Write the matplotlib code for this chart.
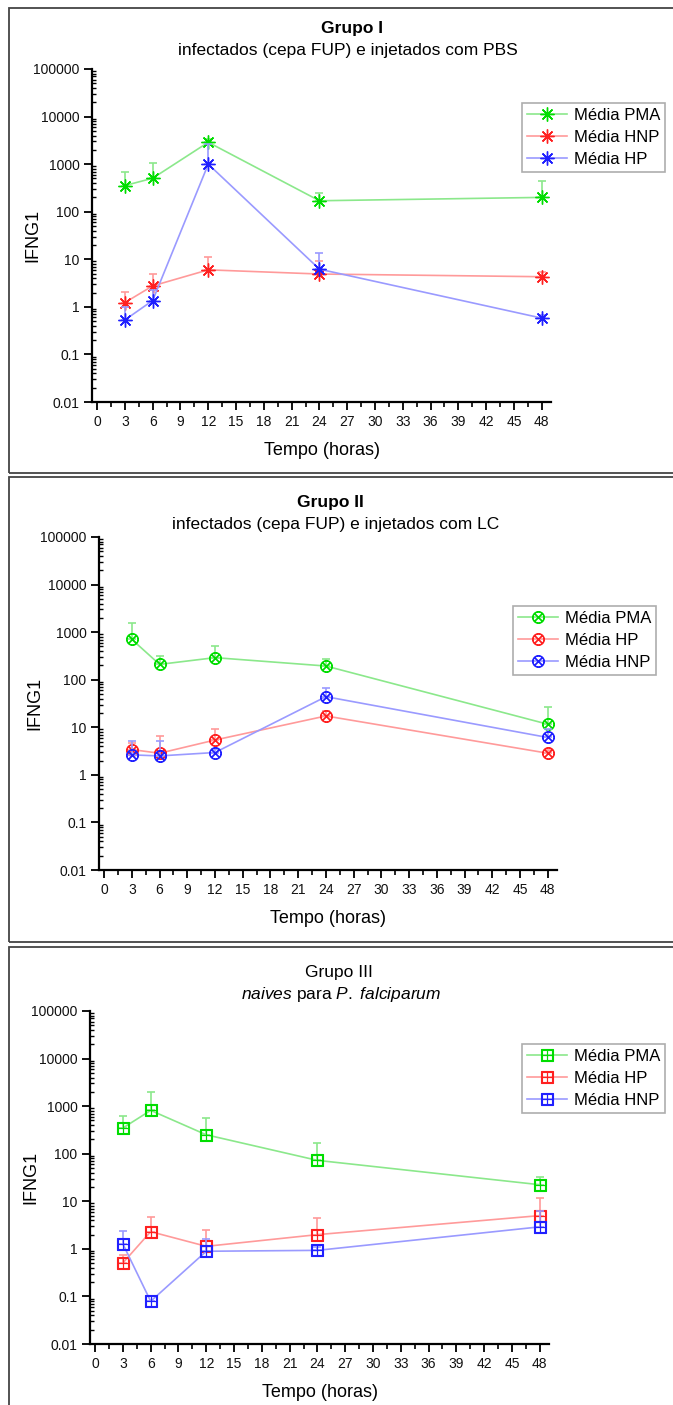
import numpy as np
import matplotlib
matplotlib.use('Agg')
import matplotlib.pyplot as plt
from matplotlib.patches import Rectangle
from matplotlib.ticker import FixedLocator, LogLocator, NullFormatter

plt.rcParams['font.family'] = ['Liberation Sans', 'DejaVu Sans']
plt.rcParams['mathtext.fontset'] = 'custom'
plt.rcParams['mathtext.rm'] = 'Liberation Sans'
plt.rcParams['mathtext.it'] = 'Liberation Sans:italic'

W, H = 673, 1405

horas = [3, 6, 12, 24, 48]
xticks = list(range(0, 49, 3))
yticks = [0.01, 0.1, 1, 10, 100, 1000, 10000, 100000]
ytick_labels = ['0.01', '0.1', '1', '10', '100', '1000', '10000', '100000']

# Grupo I
g1_pma = [355, 505, 2880, 170, 200]
g1_pma_sup = [695, 1040, 3400, 252, 445]
g1_hnp = [1.23, 2.76, 6.0, 4.9, 4.3]
g1_hnp_sup = [2.1, 4.85, 11, 9.3, 5.5]
g1_hp = [0.53, 1.36, 1000, 6.2, 0.58]
g1_hp_sup = [1.0, 2.3, 2700, 13.4, 0.68]

# Grupo II
g2_pma = [705, 210, 291, 194, 11.6]
g2_pma_sup = [1530, 315, 510, 277, 27]
g2_hp = [3.4, 2.85, 5.4, 17.3, 2.85]
g2_hp_sup = [4.6, 6.6, 9.4, 22, 3.3]
g2_hnp = [2.63, 2.5, 2.95, 44, 6.1]
g2_hnp_sup = [5.2, 5.2, 3.5, 68, 9]

# Grupo III
g3_pma = [347, 815, 250, 72.5, 22.3]
g3_pma_sup = [607, 1970, 560, 168, 31.9]
g3_hp = [0.506, 2.3, 1.13, 1.99, 5.0]
g3_hp_sup = [0.76, 4.7, 2.46, 4.5, 11.7]
g3_hnp = [1.27, 0.079, 0.89, 0.93, 2.9]
g3_hnp_sup = [2.34, 0.079, 1.6, 1.1, 6.4]

verde = ('#00dd00', '#8be88b')
vermelho = ('#ff2020', '#ff9a9a')
azul = ('#2020ff', '#9a9aff')


def fx(x):
    return x / W


def fy(y):
    return 1 - y / H


fig = plt.figure(figsize=(W / 100, H / 100), dpi=100)

# molduras
for top, bot in [(8, 473), (477, 942), (947, 1412)]:
    fig.patches.append(Rectangle((fx(9), fy(bot)), fx(700 - 9), (bot - top) / H,
                                 transform=fig.transFigure, fill=False,
                                 edgecolor='#444444', lw=1.3))


def painel(caixa, series, marker, ms, mew, leg_xy, ylab_x):
    l, t, r, b = caixa
    ax = fig.add_axes([fx(l), fy(b), (r - l) / W, (b - t) / H])
    for nome, y, sup, (cm, cl) in series:
        y = np.array(y)
        sup = np.array(sup)
        err = [np.zeros_like(y), sup - y]
        ax.errorbar(horas, y, yerr=err, fmt='none', ecolor=cl, elinewidth=1.2,
                    capsize=3, capthick=1.2)
        ax.plot(horas, y, color=cl, lw=1.2, marker=marker, ms=ms, mec=cm,
                mfc='none', mew=mew, label=nome)
    ax.set_yscale('log')
    ax.set_ylim(0.01, 100000)
    ax.set_xlim(-0.55, 49)
    ax.set_xticks(xticks)
    ax.xaxis.set_minor_locator(FixedLocator(np.arange(1.5, 48, 3)))
    ax.yaxis.set_major_locator(FixedLocator(yticks))
    ax.set_yticklabels(ytick_labels)
    ax.yaxis.set_minor_locator(LogLocator(base=10, subs=np.arange(2, 10), numticks=20))
    ax.yaxis.set_minor_formatter(NullFormatter())
    for s in ['top', 'right']:
        ax.spines[s].set_visible(False)
    for s in ['left', 'bottom']:
        ax.spines[s].set_linewidth(1.6)
    ax.tick_params(axis='both', which='major', direction='out', length=6, width=1.4,
                   labelsize=10, colors='#111111', pad=3)
    ax.tick_params(axis='x', which='minor', direction='out', length=3.5, width=1.2)
    ax.tick_params(axis='y', which='minor', direction='in', length=3, width=1)
    ax.set_xlabel('Tempo (horas)', fontsize=13, labelpad=10)
    ax.set_ylabel('IFNG1', fontsize=13)
    ax.yaxis.set_label_coords((ylab_x - l) / (r - l), 0.5)
    leg = ax.legend(loc='upper left', bbox_to_anchor=(fx(leg_xy[0]), fy(leg_xy[1])),
                    bbox_transform=fig.transFigure, fontsize=12, frameon=True,
                    fancybox=False, borderpad=0.3, labelspacing=0.42,
                    handlelength=2.4, handletextpad=0.4, borderaxespad=0)
    leg.get_frame().set_edgecolor('#999999')
    leg.get_frame().set_linewidth(1.2)
    return ax


asterisco = (8, 2, 0)
painel((92, 69, 551, 402),
       [('Média PMA', g1_pma, g1_pma_sup, verde),
        ('Média HNP', g1_hnp, g1_hnp_sup, vermelho),
        ('Média HP', g1_hp, g1_hp_sup, azul)],
       asterisco, 10, 1.0, (522, 103), 41)
fig.text(fx(352), fy(29), 'Grupo I', ha='center', va='center', fontsize=12.5, fontweight='bold')
fig.text(fx(348), fy(51), 'infectados (cepa FUP) e injetados com PBS', ha='center', va='center', fontsize=12.5)

painel((99, 537, 557, 870),
       [('Média PMA', g2_pma, g2_pma_sup, verde),
        ('Média HP', g2_hp, g2_hp_sup, vermelho),
        ('Média HNP', g2_hnp, g2_hnp_sup, azul)],
       r'$\otimes$', 8.5, 0.8, (513, 606), 43)
fig.text(fx(330), fy(502), 'Grupo II', ha='center', va='center', fontsize=12.5, fontweight='bold')
fig.text(fx(336), fy(524), 'infectados (cepa FUP) e injetados com LC', ha='center', va='center', fontsize=12.5)

painel((90, 1011, 549, 1344),
       [('Média PMA', g3_pma, g3_pma_sup, verde),
        ('Média HP', g3_hp, g3_hp_sup, vermelho),
        ('Média HNP', g3_hnp, g3_hnp_sup, azul)],
       r'$\boxplus$', 8.5, 0.8, (522, 1044), 39)
fig.text(fx(339), fy(972), 'Grupo III', ha='center', va='center', fontsize=12.5)
fig.text(fx(341), fy(995), r'$\it{naives}$ para $\it{P.\ falciparum}$', ha='center', va='center', fontsize=12.5)

fig.savefig('out.png', dpi=100)
